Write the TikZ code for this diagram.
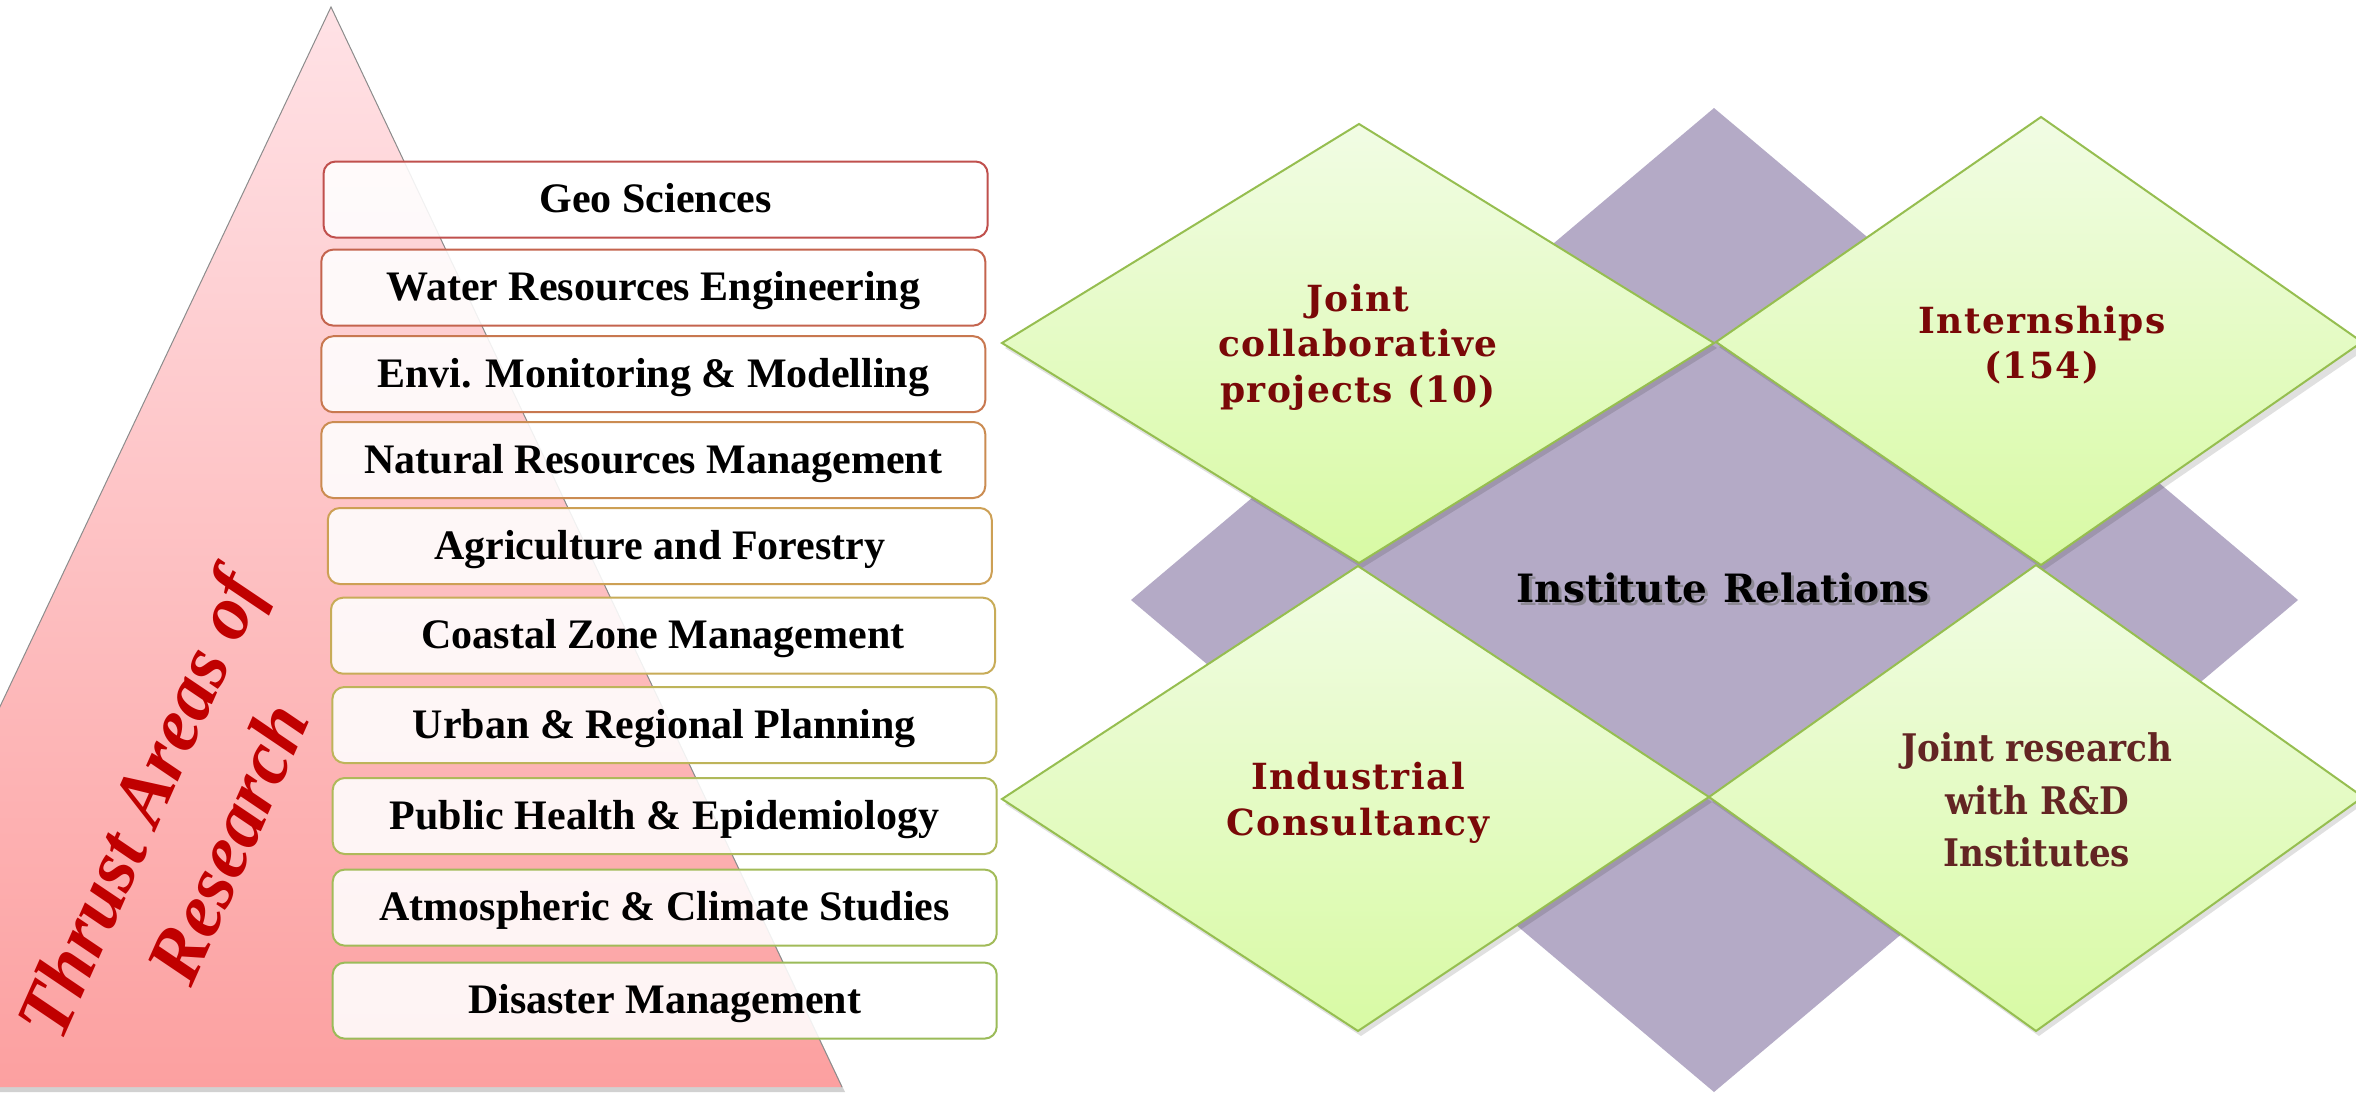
\documentclass[tikz,border=0pt]{standalone}
\usepackage{fontspec}
\setmainfont{Liberation Serif}
\newfontfamily\dvs{DejaVu Serif}
\newfontfamily\dvsls[LetterSpace=4]{DejaVu Serif}
\newfontfamily\dvsc[FakeStretch=0.9]{DejaVu Serif}

\definecolor{purp}{RGB}{180,170,198}
\definecolor{gborder}{RGB}{150,190,80}
\definecolor{gtop}{RGB}{241,252,228}
\definecolor{gbot}{RGB}{216,250,164}
\definecolor{ttop}{RGB}{255,226,230}
\definecolor{tbot}{RGB}{252,160,160}
\definecolor{thr}{RGB}{192,0,0}
\definecolor{dred}{RGB}{122,8,8}
\definecolor{dbrown}{RGB}{99,37,35}
\definecolor{b1}{RGB}{192,80,77}
\definecolor{b2}{RGB}{196,100,78}
\definecolor{b3}{RGB}{200,120,80}
\definecolor{b4}{RGB}{203,140,82}
\definecolor{b5}{RGB}{205,160,85}
\definecolor{b6}{RGB}{200,172,88}
\definecolor{b7}{RGB}{190,180,90}
\definecolor{b8}{RGB}{175,185,90}
\definecolor{b9}{RGB}{162,187,89}
\definecolor{b10}{RGB}{155,187,89}

\begin{document}
\begin{tikzpicture}[x=1pt,y=-1pt,
  areabox/.style={draw, line width=2pt, rounded corners=12pt, fill=white,
    fill opacity=0.88, text opacity=1, inner sep=0pt,
    minimum width=664pt, minimum height=76pt, text height=28pt, text depth=2pt,
    font=\fontsize{42}{50}\selectfont\bfseries},
  dtext/.style={align=center, inner sep=0pt, text=dred,
    font=\dvsls\bfseries\fontsize{36}{45.5}\selectfont},
  gdia/.style={top color=gtop, bottom color=gbot, draw=gborder, line width=2pt, line join=miter},
  dshadow/.style={fill=black, opacity=0.12}
]
\useasboundingbox (0,0) rectangle (2356,1096);
\fill[white] (0,0) rectangle (2356,1096);

% ---------- left: triangle ----------
\fill[black, opacity=0.18] (333,11) -- (845,1092) -- (-178,1092) -- cycle;
\shade[top color=ttop, bottom color=tbot] (331,7) -- (842,1087) -- (-180,1087) -- cycle;
\draw[black!45, line width=1pt] (-180,1087) -- (331,7) -- (842,1087);

\node[rotate=66, align=center, inner sep=0pt, text=thr,
      font=\bfseries\itshape\fontsize{77}{96}\selectfont] (thrust) at (183,823)
      {Thrust Areas of\\Research};

% ---------- area boxes ----------
\node[areabox, draw=b1]  (geo)   at (655.6,199.5) {Geo Sciences};
\node[areabox, draw=b2]  (water) at (653.3,287.6) {Water Resources Engineering};
\node[areabox, draw=b3]  (envi)  at (653.3,374.2) {Envi. Monitoring \& Modelling};
\node[areabox, draw=b4]  (nat)   at (653.3,460.0) {Natural Resources Management};
\node[areabox, draw=b5]  (agri)  at (659.8,546.0) {Agriculture and Forestry};
\node[areabox, draw=b6]  (coast) at (663.0,635.7) {Coastal Zone Management};
\node[areabox, draw=b7]  (urban) at (664.4,725.0) {Urban \& Regional Planning};
\node[areabox, draw=b8]  (pub)   at (664.7,816.0) {Public Health \& Epidemiology};
\node[areabox, draw=b9]  (atmo)  at (664.7,907.6) {Atmospheric \& Climate Studies};
\node[areabox, draw=b10] (dis)   at (664.7,1000.6) {Disaster Management};

% ---------- right: diamonds ----------
\fill[purp] (1714,108) -- (2298,600) -- (1714,1092) -- (1131,600) -- cycle;

% shadows
\fill[dshadow] (1362,129) -- (1717,348) -- (1362,568) -- (1005,348) -- cycle;
\fill[dshadow] (2044,122) -- (2369,347) -- (2044,570) -- (1719,347) -- cycle;
\fill[dshadow] (1361,571) -- (1712,802) -- (1361,1036) -- (1005,804) -- cycle;
\fill[dshadow] (2039,570) -- (2366,802) -- (2039,1036) -- (1712,802) -- cycle;

% green diamonds
\shadedraw[gdia] (1359,124) -- (1714,343) -- (1359,563) -- (1002,343) -- cycle;
\shadedraw[gdia] (2041,117) -- (2362,342) -- (2041,565) -- (1716,342) -- cycle;
\shadedraw[gdia] (1358,566) -- (1709,797) -- (1358,1031) -- (1002,799) -- cycle;
\shadedraw[gdia] (2036,565) -- (2363,797) -- (2036,1031) -- (1709,797) -- cycle;

% texts
\node[dtext] (jcp) at (1358,347) {Joint\\collaborative\\projects (10)};
\node[dtext] (intern) at (2042,345) {Internships\\(154)};
\node[dtext] (indus) at (1358,803) {Industrial\\Consultancy};
\node[align=center, inner sep=0pt, text=dbrown,
      font=\dvsc\bfseries\fontsize{38}{52.5}\selectfont] (jrd) at (2037,800)
      {Joint research\\with R\&D\\Institutes};

\node[anchor=base, inner sep=0pt, text=black!55, opacity=0.6,
      font=\dvs\bfseries\fontsize{39}{47}\selectfont] (irshadow) at (1726,605.5)
      {Institute\hspace{16pt}Relations};
\node[anchor=base, inner sep=0pt, text=black,
      font=\dvs\bfseries\fontsize{39}{47}\selectfont] (ir) at (1723,602.5)
      {Institute\hspace{16pt}Relations};
\end{tikzpicture}
\end{document}
